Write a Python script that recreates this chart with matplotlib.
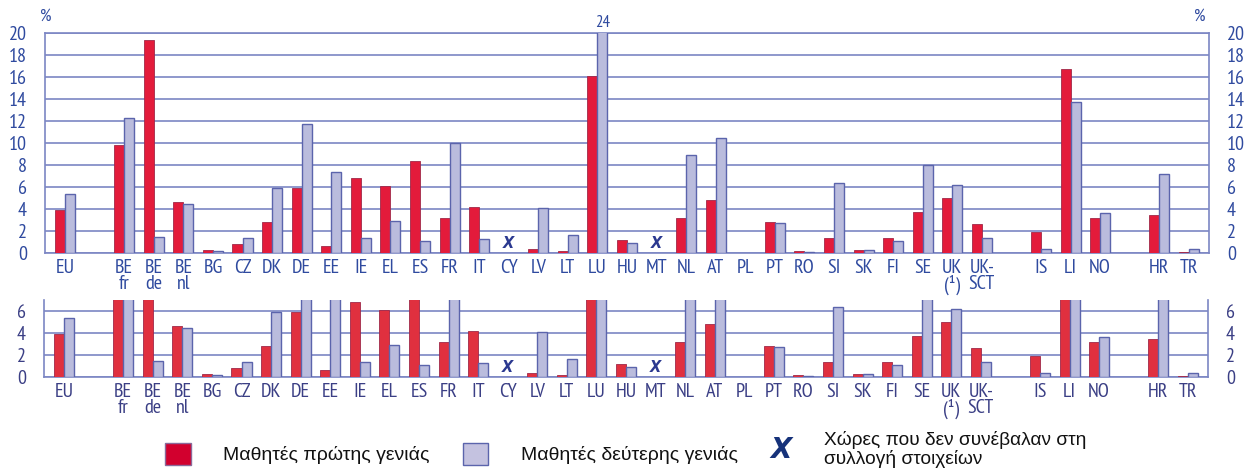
import numpy as np
import matplotlib
matplotlib.use("Agg")
import matplotlib.pyplot as plt
from matplotlib.patches import Rectangle
from matplotlib import font_manager as fm

# ---------------- data ----------------
categories = ["EU", "BE\nfr", "BE\nde", "BE\nnl", "BG", "CZ", "DK", "DE", "EE", "IE", "EL",
              "ES", "FR", "IT", "CY", "LV", "LT", "LU", "HU", "MT", "NL", "AT", "PL", "PT",
              "RO", "SI", "SK", "FI", "SE", "UK\n(¹)", "UK-\nSCT", "IS", "LI", "NO", "HR", "TR"]
positions = [0, 2, 3, 4, 5, 6, 7, 8, 9, 10, 11, 12, 13, 14, 15, 16, 17, 18, 19, 20, 21, 22,
             23, 24, 25, 26, 27, 28, 29, 30, 31, 33, 34, 35, 37, 38]
first_gen = [3.9, 9.8, 19.4, 4.6, 0.3, 0.8, 2.8, 5.9, 0.6, 6.8, 6.1,
             8.4, 3.2, 4.2, np.nan, 0.4, 0.2, 16.1, 1.2, np.nan, 3.2, 4.8, np.nan, 2.8,
             0.2, 1.4, 0.3, 1.4, 3.7, 5.0, 2.6, 1.9, 16.7, 3.2, 3.5, 0.1]
second_gen = [5.4, 12.3, 1.5, 4.5, 0.2, 1.4, 5.9, 11.7, 7.4, 1.4, 2.9,
              1.1, 10.0, 1.3, np.nan, 4.1, 1.6, 24.0, 0.9, np.nan, 8.9, 10.5, np.nan, 2.7,
              0.1, 6.4, 0.3, 1.1, 8.0, 6.2, 1.4, 0.4, 13.7, 3.6, 7.2, 0.4]
no_data = ["CY", "MT"]
top_ticks = [0, 2, 4, 6, 8, 10, 12, 14, 16, 18, 20]
bottom_ticks = [0, 2, 4, 6]
legend_labels = ["Μαθητές πρώτης γενιάς", "Μαθητές δεύτερης γενιάς",
                 "Χώρες που δεν συνέβαλαν στη\nσυλλογή στοιχείων"]

# ---------------- style ----------------
avail = {f.name for f in fm.fontManager.ttflist}
narrow = "DejaVu Sans"
for cand in ["PT Sans Narrow", "Roboto Condensed", "Fira Sans Condensed",
             "IBM Plex Sans Condensed", "Sofia Sans Condensed"]:
    if cand in avail:
        narrow = cand
        break
plt.rcParams["font.family"] = [narrow, "DejaVu Sans"]
LEG_FONT = ["Liberation Sans", "DejaVu Sans"]

RED = "#E31B3B"
RED2 = "#E0303F"
PURPLE = "#BABCDD"
EDGE = "#5B64AC"
GRID = "#7C86C4"
TXT = "#2F4A9F"
TXT2 = "#3B3F85"
XCOL = "#2B3990"

W, H = 1247, 474
fig = plt.figure(figsize=(W / 100, H / 100), dpi=100)

def px_axes(l, t, r, b):
    return fig.add_axes([l / W, 1 - b / H, (r - l) / W, (b - t) / H])

ax1 = px_axes(45, 33, 1209, 253)
ax2 = px_axes(44, 300, 1208, 377)

bw = 0.34
x = np.array(positions, dtype=float)
f = np.array(first_gen)
s = np.array(second_gen)
labels_flat = [c.split("\n")[0] for c in categories]

for ax, top, ticks, red, tcol in [(ax1, 20, top_ticks, RED, TXT), (ax2, 7, bottom_ticks, RED2, TXT2)]:
    ax.set_axisbelow(True)
    ax.bar(x - bw / 2, f, width=bw, color=red, edgecolor="#A02848", linewidth=0.6, zorder=3)
    ax.bar(x + bw / 2, s, width=bw, color=PURPLE, edgecolor=EDGE, linewidth=1.0, zorder=3)
    ax.set_xlim(-0.68, 38.68)
    ax.set_ylim(0, top)
    ax.set_yticks(ticks)
    ax.yaxis.grid(True, color=GRID, linewidth=1.2)
    ax.tick_params(axis="y", length=0, pad=13, labelsize=14.5, labelcolor=tcol,
                   left=True, right=True, labelleft=True, labelright=True)
    ax.set_xticks(x)
    ax.set_xticklabels(categories, fontsize=14.5, color=tcol, linespacing=0.9)
    ax.tick_params(axis="x", length=0, pad=4)
    for sp in ax.spines.values():
        sp.set_color(GRID)
        sp.set_linewidth(1.2)
    for name in no_data:
        i = labels_flat.index(name)
        ax.text(x[i], 0.9, "X", ha="center", va="center", fontsize=10.5,
                fontstyle="italic", fontweight="bold", color=XCOL, zorder=4,
                family="DejaVu Sans")

ax2.spines["top"].set_visible(False)

# value label for clipped LU bar
lu = labels_flat.index("LU")
ax1.text(x[lu] + bw / 2, 20.2, f"{second_gen[lu]:.0f}", ha="center", va="bottom",
         fontsize=12, color=TXT)

fig.text(46 / W, 1 - 17 / H, "%", ha="center", va="center", fontsize=13, color=TXT)
fig.text(1200 / W, 1 - 17 / H, "%", ha="center", va="center", fontsize=13, color=TXT)

# ---------------- legend ----------------
def px_rect(l, t, r, b, fc, ec):
    fig.add_artist(Rectangle((l / W, 1 - b / H), (r - l) / W, (b - t) / H,
                             transform=fig.transFigure, facecolor=fc, edgecolor=ec, linewidth=1.0))

px_rect(165, 443, 191, 465, "#D2002E", "#8A6A9A")
fig.text(223 / W, 1 - 455 / H, legend_labels[0], ha="left", va="center", fontsize=14,
         family=LEG_FONT, color="#111111")
px_rect(463, 443, 488, 465, "#C4C2E0", EDGE)
fig.text(521 / W, 1 - 455 / H, legend_labels[1], ha="left", va="center", fontsize=14,
         family=LEG_FONT, color="#111111")
fig.text(781 / W, 1 - 450 / H, "X", ha="center", va="center", fontsize=20,
         fontstyle="italic", fontweight="bold", color="#16327A", family="DejaVu Sans")
fig.text(824 / W, 1 - 431 / H, legend_labels[2], ha="left", va="top", fontsize=13.8,
         family=LEG_FONT, color="#111111", linespacing=1.05)

fig.savefig("out.png", dpi=100)
